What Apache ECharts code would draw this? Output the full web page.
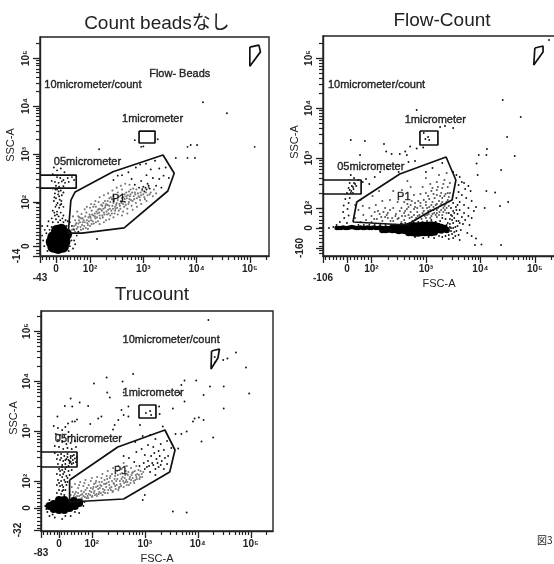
<!DOCTYPE html>
<html><head><meta charset="utf-8">
<script src="https://cdn.jsdelivr.net/npm/echarts@6/dist/echarts.min.js"></script>
<style>html,body{margin:0;padding:0;background:#fff}#c{width:554px;height:564px;filter:blur(0.6px)}</style>
</head><body><div id="c"></div>
<script>
const titles = ['Count beadsなし','Flow-Count','Trucount'];
const xTickVals = [[1.36,2,3,4,5],[1.55,2,3,4,5],[1.38,2,3,4,5]];
const yTickVals = [[1.08,2,3,4,5],[1.6,2,3,4,5],[1.46,2,3,4,5]];
const lowX = ['-43','-106','-83'];
const lowY = ['-14','-160','-32'];
const lowYPos = [0.875,1.2,1.02];

// gates, in decades of FSC-A / SSC-A on the display scale
const p1Gate = [[[1.64,2.04],[1.72,2.21],[2.43,2.63],[3.37,2.98],[3.58,2.6],[3.46,2.23],[2.64,1.46],[1.85,1.35],[1.59,1.35],[1.64,2.04]],
 [[1.66,1.72],[1.73,2.12],[2.52,2.68],[3.37,3.02],[3.55,2.56],[3.48,2.16],[3.02,1.9],[2.65,1.66],[1.66,1.72]],
 [[1.58,2.02],[2.49,2.68],[3.38,3.02],[3.57,2.62],[3.47,2.18],[2.6,1.64],[1.58,1.58],[1.58,2.02]]];
const oneGate = [[[2.92,3.48],[3.22,3.48],[3.22,3.23],[2.92,3.23],[2.92,3.48]],
 [[2.89,3.54],[3.22,3.54],[3.22,3.26],[2.89,3.26],[2.89,3.54]],
 [[2.89,3.52],[3.21,3.52],[3.21,3.26],[2.89,3.26],[2.89,3.52]]];
const halfGate = [[[1.06,2.56],[1.74,2.56],[1.74,2.29],[1.06,2.29]],
 [[1.11,2.56],[1.81,2.56],[1.81,2.28],[1.11,2.28]],
 [[1.04,2.58],[1.72,2.58],[1.72,2.28],[1.04,2.28]]];
const tenGate = [[[5,5.23],[5.17,5.27],[5.2,5.13],[5,4.83],[5,5.23]],
 [[5,5.2],[5.15,5.24],[5.15,5.12],[4.98,4.86],[5,5.2]],
 [[4.26,4.6],[4.41,4.64],[4.38,4.46],[4.25,4.24],[4.26,4.6]]];
const notes = [
 [['10micrometer/count',1.14,4.44],['1micrometer',2.6,3.73],['05micrometer',1.32,2.83],['P1',2.41,2.06],['Flow- Beads',3.11,4.67]],
 [['10micrometer/count',1.2,4.46],['1micrometer',2.61,3.76],['05micrometer',1.37,2.82],['P1',2.47,2.22]],
 [['10micrometer/count',2.58,4.82],['1micrometer',2.58,3.76],['05micrometer',1.3,2.84],['P1',2.42,2.2]]];

// ---- Count beads nashi
const core1 = [[1.4,1.17],[1.28,1.17],[1.52,1.17],[1.4,1.04],[1.4,1.3],[1.31,1.07],[1.49,1.07],[1.31,1.27],[1.49,1.27],[1.46,1.42],[1.38,1.4],[1.55,1.33]];
const dots1 = [[4.12,4.08],[4.57,3.85],[2.17,3.1],[5.09,3.15],[4.01,3.19],[3.89,3.19],[3.83,3.15],[3.61,2.92],[3.83,2.92],[3.97,2.92],[2.84,3.29],[3.27,3.31],[2.96,3.15],[3.0,3.16],[2.13,1.23],
[1.32,2.72],[1.38,2.66],[1.45,2.7],[1.52,2.62],[1.3,2.58],[1.38,2.52],[1.44,2.5],[1.5,2.46],[1.58,2.5],[1.66,2.52],[1.7,2.46],[1.28,2.44],[1.34,2.42],[1.41,2.4],[1.47,2.43],[1.53,2.4],[1.6,2.42],[1.36,2.34],[1.42,2.32],[1.5,2.33],[1.3,2.28],[1.38,2.26],[1.45,2.24],[1.34,2.18],[1.4,2.16],[1.47,2.14],[1.36,2.08],[1.43,2.05],[1.32,2.02],[1.39,1.98],[1.46,1.96],[1.35,1.9],[1.42,1.88],[1.5,1.9],[1.3,1.82],[1.38,1.8],[1.45,1.78],[1.34,1.72],[1.41,1.7],[1.5,1.72],[1.28,1.66],[1.36,1.64],[1.44,1.62],[1.54,1.62],[1.22,1.6],[1.4,1.58],[1.5,1.58],[1.3,1.58],
[1.33,2.1],[1.41,2.22],[1.37,1.94],[1.46,2.02],[1.33,1.78],[1.48,1.66],[1.38,1.74],[1.44,1.94],[1.35,2.26],[1.5,2.2],[1.42,2.12],
[1.1,1.3],[1.12,1.2],[1.15,1.42],[1.14,1.08],[1.7,1.2],[1.75,1.3],[1.72,1.12],[1.68,1.03],[1.2,0.98],[1.1,1.5],[1.2,1.5],[1.78,1.38],[1.66,1.5],[1.7,1.42],[1.62,1.58],[1.58,1.6],[1.18,1.35],[1.2,1.1],[1.62,1.08],[1.65,1.2],[1.6,0.98],[1.28,1.48],[1.24,1.42],[1.56,1.5],
[2.72,2.62],[2.6,2.56],[2.78,2.48],[2.86,2.72],[2.94,2.78],[3.05,2.8],[3.14,2.68],[3.22,2.86],[3.3,2.7],[3.38,2.55],[3.42,2.72],[3.48,2.5],[3.3,2.48],[3.18,2.5],[3.06,2.56],[2.96,2.44],[3.0,2.32],[3.08,2.38],[3.12,2.28],[3.02,2.22],[2.92,2.3],[3.24,2.34],[3.34,2.3],[2.84,2.36],[2.52,2.55],[2.44,2.46],[3.04,2.3],[3.06,2.26],[3.1,2.34],[2.98,2.27]];
const gray1 = [[1.66,1.42],[1.7,1.5],[1.72,1.62],[1.68,1.7],[1.75,1.44],[1.78,1.55],[1.8,1.68],[1.76,1.8],[1.83,1.42],[1.85,1.52],[1.88,1.62],[1.84,1.75],[1.9,1.85],[1.92,1.46],[1.95,1.56],[1.97,1.68],[1.93,1.78],[2.0,1.5],[2.02,1.62],[2.04,1.74],[2.0,1.88],[2.07,1.55],[2.1,1.66],[2.12,1.8],[2.08,1.95],[2.15,1.6],[2.18,1.72],[2.2,1.85],[2.16,2.0],
[2.24,1.68],[2.26,1.78],[2.23,1.92],[2.28,2.02],[2.3,1.62],[2.32,1.74],[2.34,1.84],[2.3,1.96],[2.36,2.08],[2.38,1.72],[2.4,1.82],[2.42,1.92],[2.38,2.0],[2.44,2.12],[2.46,1.76],[2.48,1.86],[2.5,1.98],[2.46,2.06],[2.52,2.2],[2.54,1.82],[2.56,1.92],[2.58,2.02],[2.55,2.12],[2.6,2.26],[2.62,1.8],[2.64,1.9],[2.66,2.0],[2.63,2.1],[2.68,2.2],[2.7,1.86],[2.72,1.96],[2.74,2.06],[2.71,2.14],[2.76,2.26],[2.78,1.92],[2.8,2.02],[2.82,2.12],[2.79,2.2],[2.86,1.98],[2.88,2.08],[2.9,2.18],[2.87,2.26],[2.94,2.04],[2.96,2.14],[2.98,2.24],[3.02,2.1],[3.05,2.2],[3.08,2.14],[3.1,2.3],[3.14,2.2],[3.18,2.12],[3.2,2.26],[3.24,2.18],
[1.72,1.38],[1.82,1.48],[1.9,1.58],[1.98,1.6],[2.06,1.72],[2.14,1.76],[2.22,1.82],[2.28,1.88],[2.36,1.92],[2.44,1.98],[2.52,2.04],[2.6,2.08],[2.68,2.12],[2.76,2.16],[2.84,2.2],[1.78,1.7],[1.86,1.66],[1.94,1.9],[2.02,1.96],[2.1,2.02],[2.18,2.1],[2.26,2.14],[2.34,2.18],[2.42,2.24],[2.5,2.3],[2.58,2.34],[2.66,2.38],[2.74,2.36],[2.18,1.54],[2.26,1.58],[2.36,1.64],[2.44,1.68],[2.52,1.74],[2.6,1.72],[2.7,1.76],[2.8,1.84],[2.88,1.9],[2.96,1.96],[3.06,2.02],
[1.74,1.56],[1.87,1.44],[1.96,1.44],[2.03,1.54],[2.11,1.58],[2.0,1.7],[2.09,1.76],[2.17,1.86],[2.25,1.98],[2.33,2.02],[2.41,2.06],[2.47,1.9],[2.55,1.96],[2.65,2.16],[2.73,2.22],[2.81,2.28],[2.93,2.1],
[1.69,1.44],[1.73,1.52],[1.77,1.48],[1.81,1.58],[1.79,1.62],[1.83,1.66],[1.86,1.58],[1.89,1.5],[1.91,1.7],[1.94,1.62],[1.96,1.52],[1.99,1.74],[2.01,1.67],[2.03,1.82],[2.05,1.6],[2.06,1.9],[2.09,1.7],[2.11,1.9],[2.13,1.68],[2.15,1.84],[2.17,1.78],[2.19,1.66],[2.21,1.94],[2.23,1.72],[2.25,1.86],[2.27,1.74],[2.29,1.92],[2.31,1.8],[2.33,1.94],[2.35,1.76],[2.37,1.86],[2.39,2.1],[2.41,1.76],[2.43,1.86],[2.45,2.02],[2.47,1.82],[2.49,1.94],[2.51,1.88],[2.53,2.1],[2.57,1.86],[2.59,1.98],[2.61,2.16],[2.62,1.96],[2.65,2.06],[2.67,1.94],[2.69,2.08],[2.73,2.0],[2.75,2.12],[2.77,2.04],[2.83,2.06],[2.85,2.16],[2.91,2.12],[2.95,2.2],[3.0,2.16],[3.03,2.06],[3.12,2.16]];

// ---- Flow-Count
const coreThin2 = [[1.36,1.6],[1.4,1.6],[1.44,1.6],[1.48,1.61],[1.52,1.6],[1.56,1.6],[1.6,1.61],[1.64,1.62],[1.68,1.61],[1.72,1.6],[1.76,1.6],[1.8,1.61],[1.84,1.6],[1.88,1.6],[1.92,1.61],[1.96,1.6],[2.0,1.6],[2.04,1.61],[2.08,1.6],[2.12,1.6],[2.16,1.61],[2.2,1.6],[2.24,1.6],[2.28,1.6],[2.32,1.6]];
const coreThick2 = [[2.2,1.56],[2.26,1.56],[2.32,1.57],[2.38,1.6],[2.38,1.56],[2.44,1.62],[2.44,1.56],[2.5,1.6],[2.5,1.54],[2.56,1.63],[2.56,1.55],[2.62,1.62],[2.62,1.54],[2.68,1.64],[2.68,1.56],[2.68,1.5],[2.74,1.65],[2.74,1.57],[2.74,1.5],[2.8,1.65],[2.8,1.57],[2.8,1.49],[2.86,1.65],[2.86,1.57],[2.86,1.49],[2.92,1.66],[2.92,1.58],[2.92,1.5],[2.98,1.66],[2.98,1.58],[2.98,1.5],[3.04,1.66],[3.04,1.58],[3.04,1.5],[3.1,1.67],[3.1,1.58],[3.1,1.5],[3.16,1.66],[3.16,1.58],[3.16,1.51],[3.22,1.64],[3.22,1.56],[3.28,1.62],[3.28,1.55],[3.34,1.6],[3.38,1.56]];
const dots2 = [[5.26,5.36],[4.41,4.16],[4.74,3.82],[4.49,3.42],[4.63,3.04],[2.83,3.96],[3.26,3.62],[3.35,3.64],[3.5,3.6],[1.62,3.36],[1.88,3.34],[2.23,3.28],[1.79,3.06],[2.27,3.13],[2.37,3.08],[2.52,3.08],[2.62,3.13],[2.65,3.06],[2.71,3.23],[2.83,3.19],[2.95,3.21],[3.97,3.06],[4.11,3.06],[4.12,3.18],[4.38,2.76],[3.93,2.89],[3.95,2.66],[4.11,2.34],[4.27,2.31],[4.51,2.12],[4.36,2.04],[4.08,2.0],[3.92,2.02],[4.38,1.26],[4.02,1.27],[3.9,1.26],[3.62,1.36],[3.92,1.39],[2.96,3.5],[3.04,3.42],[3.06,3.36],[2.99,3.38],
[1.3,1.62],[1.22,1.6],[1.36,1.66],[1.42,1.72],[1.55,1.7],[1.5,1.8],[1.58,1.85],[1.48,1.92],[1.56,1.98],[1.49,2.05],[1.58,2.1],[1.52,2.18],[1.6,2.2],[1.55,2.3],[1.63,2.34],[1.58,2.4],[1.66,2.42],[1.6,2.5],[1.7,2.48],[1.76,2.56],[1.68,2.6],[1.62,2.66],[1.84,2.52],[1.9,2.58],[1.96,2.48],[2.06,2.62],[2.16,2.72],[2.3,2.78],[2.5,2.72],[2.68,2.92],[2.8,2.94],[3.0,2.72],[3.12,2.8],[3.3,2.9],
[1.6,2.36],[1.64,2.44],[1.67,2.38],[1.62,2.3],[1.68,2.5],[1.72,2.44],[1.66,2.3],
[3.5,2.72],[3.56,2.66],[3.62,2.62],[3.66,2.52],[3.7,2.5],[3.6,2.46],[3.72,2.38],[3.78,2.44],[3.82,2.34],[3.6,2.32],[3.66,2.26],[3.74,2.2],[3.84,2.14],[3.56,2.2],[3.62,2.12],[3.7,2.06],[3.78,2.0],[3.88,1.94],[3.55,2.02],[3.62,1.96],[3.7,1.9],[3.78,1.84],[3.84,1.8],[3.5,1.94],[3.58,1.88],[3.66,1.82],[3.72,1.76],[3.46,1.86],[3.52,1.8],[3.6,1.74],[3.68,1.68],[3.8,1.66],[3.44,1.78],[3.5,1.7],[3.58,1.64],[3.64,1.56],[3.76,1.5],[3.84,1.44],[3.46,1.6],[3.52,1.52],[3.6,1.46],[3.42,1.46],[3.5,1.4],[3.36,1.44],[3.42,1.38],[3.3,1.42],[3.24,1.44],[3.15,1.4],[3.05,1.42],[2.95,1.4],[2.8,1.42],
[3.44,1.68],[3.48,1.76],[3.54,1.62],[3.56,1.74],[3.48,1.48],[3.54,1.44],[3.4,1.52],[3.46,1.54],[3.52,1.9],[3.46,2.0],[3.5,2.1],[3.58,2.06],[3.4,1.58],[3.44,1.62],[3.5,1.6],[3.56,1.54],[3.38,1.66],[3.62,1.7],[3.48,1.84],[3.56,1.96],
[3.4,1.7],[3.42,1.9],[3.36,1.78],[3.3,1.8],[3.26,1.74],[3.18,1.72],[3.1,1.76],[3.02,1.74],[2.94,1.72],[2.86,1.72],[2.78,1.7],[2.7,1.7],[2.62,1.7],[2.54,1.68],[2.46,1.66],[2.36,1.66],[2.26,1.66],[2.16,1.66],[2.06,1.66],[1.96,1.66],[1.86,1.66],[1.76,1.66]];
const gray2 = [[1.8,1.72],[1.9,1.76],[2.0,1.72],[2.1,1.78],[2.2,1.74],[2.3,1.8],[2.4,1.74],[2.5,1.8],[2.6,1.76],[2.7,1.8],[2.8,1.76],[2.9,1.82],[3.0,1.8],[3.1,1.84],[3.2,1.82],[3.3,1.86],[3.38,1.9],
[1.7,1.8],[1.85,1.86],[2.0,1.84],[2.15,1.88],[2.3,1.9],[2.45,1.88],[2.6,1.9],[2.72,1.92],[2.84,1.92],[2.96,1.94],[3.08,1.96],[3.2,1.96],[3.32,2.0],[3.42,2.04],
[2.25,2.0],[2.4,2.0],[2.55,2.0],[2.68,2.02],[2.8,2.02],[2.9,2.04],[3.0,2.06],[3.1,2.06],[3.2,2.08],[3.3,2.12],[3.4,2.16],
[2.6,2.12],[2.74,2.14],[2.86,2.14],[2.96,2.16],[3.06,2.18],[3.16,2.2],[3.26,2.24],[3.36,2.28],[3.44,2.3],
[2.78,2.26],[2.9,2.28],[3.0,2.3],[3.1,2.34],[3.2,2.36],[3.3,2.4],[3.4,2.42],[2.94,2.42],[3.08,2.48],[3.2,2.52],[3.34,2.56],[3.44,2.5],[3.0,2.6],[3.24,2.66],[3.38,2.7],
[1.76,1.96],[1.7,2.06],[1.84,2.04],[1.96,2.0],[2.08,2.06],[2.2,2.14],[2.34,2.16],[2.48,2.12],[1.8,2.16],[2.02,2.24],[2.14,2.34],[2.4,2.34],[2.56,2.36],[2.72,2.42],[2.66,2.54],
[2.05,1.78],[2.25,1.82],[2.35,1.74],[2.55,1.72],[2.75,1.74],[2.85,1.84],[2.95,1.86],[3.05,1.88],[3.15,1.9],[3.25,1.92],[3.35,1.96],[2.65,1.98],[2.78,1.98],[3.02,2.0],[3.14,2.02],[3.26,2.04],[3.36,2.08],
[2.62,1.84],[2.68,1.86],[2.74,1.82],[2.78,1.86],[2.82,1.8],[2.88,1.86],[2.92,1.78],[2.94,1.9],[2.98,1.84],[3.02,1.86],[3.04,1.94],[3.08,1.8],[3.12,1.88],[3.14,1.96],[3.18,1.86],[3.2,1.9],[3.22,2.0],[3.24,1.86],[3.28,1.96],[3.28,2.08],[3.32,1.92],[3.34,2.04],[3.38,2.0],[3.38,2.12],[3.3,2.2],[3.24,2.14],[3.18,2.06],[3.12,2.12],[3.06,2.02],[3.0,2.12],[2.94,2.0],[2.9,2.1],[2.84,2.0],[2.8,2.1],[2.72,2.06],[2.66,2.08],[2.62,1.94],[2.56,1.84],[2.52,1.94],[2.48,1.78],[2.44,1.84],[2.38,1.8],[2.34,1.96],[2.28,1.86],[2.22,1.92],[2.18,1.82],[2.12,1.94],[2.06,1.92],[3.34,2.24],[3.28,2.3],[3.2,2.26],[3.14,2.28],[3.04,2.24],[3.4,2.3],[3.42,2.22],[3.22,2.42],[3.32,2.48],[3.12,2.4]];

// ---- Trucount
const core3 = [[1.2,1.5],[1.28,1.44],[1.38,1.42],[1.48,1.42],[1.58,1.46],[1.68,1.5],[1.76,1.56],[1.28,1.54],[1.38,1.52],[1.48,1.52],[1.58,1.56],[1.66,1.6],[1.38,1.62],[1.48,1.62],[1.32,1.48],[1.54,1.5]];
const dots3 = [[4.2,5.22],[4.72,4.57],[4.56,4.45],[4.48,4.42],[4.91,4.27],[4.97,3.75],[4.49,3.45],[4.49,3.89],[4.23,3.89],[4.11,3.72],[3.97,4.01],[3.75,4.01],[3.69,3.92],[3.66,3.75],[3.75,3.59],[3.53,3.45],[2.78,4.14],[2.58,3.99],[2.28,4.07],[2.04,3.95],[2.29,3.77],[2.34,3.67],[2.6,3.77],[2.69,3.49],[2.56,3.42],[2.6,3.32],[2.69,3.29],[1.77,3.57],[1.6,3.65],[1.63,3.49],[1.93,3.5],[1.49,3.5],[1.35,3.29],[2.18,3.29],[2.12,3.25],[1.97,3.14],[1.72,3.23],[1.63,3.19],[1.68,3.19],[1.55,3.15],[2.5,3.22],[2.43,3.12],[2.4,3.03],[2.91,3.12],[3.27,3.49],[3.28,3.34],[3.94,3.25],[3.91,3.19],[4.02,3.27],[4.11,3.22],[4.29,2.87],[4.07,2.79],[3.79,2.99],[3.69,2.94],[3.58,2.94],[3.53,1.39],[3.79,1.37],[3.34,3.09],[3.63,2.65],[3.02,3.36],[3.1,3.4],[3.12,3.32],[4.32,4.48],[4.33,4.38],
[1.28,3.1],[1.36,3.06],[1.44,3.02],[1.5,3.08],[1.56,2.98],[1.32,2.94],[1.4,2.92],[1.48,2.9],[1.56,2.88],[1.62,2.92],[1.36,2.82],[1.44,2.78],[1.52,2.74],[1.6,2.76],[1.68,2.8],[1.3,2.7],[1.38,2.68],[1.46,2.64],[1.54,2.66],[1.62,2.64],[1.7,2.68],
[1.3,2.56],[1.36,2.52],[1.42,2.54],[1.48,2.5],[1.54,2.54],[1.6,2.5],[1.66,2.52],[1.72,2.48],[1.34,2.44],[1.4,2.42],[1.46,2.4],[1.52,2.44],[1.58,2.4],[1.64,2.42],[1.7,2.38],[1.36,2.34],[1.44,2.32],[1.5,2.34],[1.56,2.3],[1.62,2.34],[1.38,2.24],[1.44,2.22],[1.5,2.24],[1.56,2.2],[1.62,2.22],[1.34,2.14],[1.4,2.12],[1.46,2.14],[1.52,2.1],[1.58,2.12],[1.36,2.02],[1.42,2.0],[1.48,2.02],[1.54,1.98],[1.34,1.92],[1.4,1.9],[1.46,1.88],[1.52,1.92],[1.38,1.82],[1.44,1.8],[1.5,1.82],[1.34,1.76],[1.42,1.74],[1.48,1.72],
[1.6,2.46],[1.63,2.5],[1.58,2.36],[1.68,2.45],[1.54,2.48],[1.6,2.38],[1.65,2.36],[1.5,2.42],[1.42,2.46],[1.56,2.42],[1.44,2.28],[1.52,2.28],[1.4,2.2],[1.48,2.18],[1.54,2.06],[1.44,2.08],[1.38,1.96],[1.5,1.98],[1.44,1.92],[1.46,1.82],
[1.12,1.5],[1.16,1.38],[1.2,1.3],[1.3,1.27],[1.44,1.24],[1.6,1.3],[1.76,1.36],[1.84,1.5],[1.8,1.62],[1.2,1.62],[1.86,1.58],[1.14,1.44],[1.26,1.33],[1.5,1.3],[1.68,1.38],
[2.82,2.78],[2.96,2.9],[3.1,2.92],[3.2,2.84],[3.3,2.74],[3.42,2.8],[3.5,2.66],[3.44,2.5],[3.36,2.62],[3.26,2.6],[3.16,2.68],[3.06,2.72],[2.94,2.64],[2.84,2.58],[3.0,2.52],[3.12,2.5],[3.22,2.44],[3.32,2.4],[3.42,2.34],[3.06,2.4],[3.16,2.32],[3.26,2.28],[3.36,2.24],[3.0,2.24],[3.1,2.18],[2.9,2.3],[2.8,2.38],[2.7,2.46],[3.2,2.12],[2.6,2.5],[2.96,1.62],[3.0,1.72],
[3.04,2.28],[3.14,2.36],[3.2,2.24],[3.3,2.32],[3.38,2.46],[3.18,2.56],[3.28,2.5],[3.08,2.3],[2.98,2.36],[3.24,2.36]];
const gray3 = [[1.62,1.62],[1.66,1.7],[1.64,1.78],[1.62,1.88],[1.72,1.62],[1.76,1.7],[1.7,1.78],[1.74,1.86],[1.68,1.94],[1.82,1.62],[1.84,1.7],[1.8,1.8],[1.84,1.9],[1.78,1.98],[1.9,1.66],[1.94,1.74],[1.88,1.82],[1.94,1.92],[1.88,2.02],[2.0,1.68],[2.04,1.76],[1.98,1.86],[2.04,1.94],[2.0,2.06],[2.1,1.7],[2.14,1.78],[2.08,1.88],[2.14,1.98],[2.1,2.08],[2.2,1.72],[2.24,1.82],[2.18,1.9],[2.24,2.02],[2.2,2.14],[2.3,1.76],[2.34,1.86],[2.28,1.96],[2.34,2.06],[2.3,2.2],[2.4,1.8],[2.44,1.9],[2.38,2.0],[2.44,2.1],[2.4,2.26],[2.5,1.82],[2.54,1.94],[2.48,2.04],[2.54,2.14],[2.5,2.3],[2.6,1.88],[2.64,1.98],[2.58,2.08],[2.64,2.2],[2.6,2.36],[2.7,1.92],[2.74,2.02],[2.68,2.12],[2.74,2.26],[2.8,1.96],[2.84,2.08],[2.78,2.18],[2.84,2.3],[2.9,2.04],[2.94,2.14],[2.88,2.22],
[1.66,1.64],[1.7,1.68],[1.78,1.64],[1.82,1.74],[1.92,1.7],[1.96,1.8],[2.02,1.84],[2.06,1.72],[2.12,1.84],[2.16,1.92],[2.22,1.78],[2.26,1.94],[2.32,1.98],[2.36,1.82],[2.42,1.94],[2.46,2.0],[2.52,1.88],[2.56,2.04],[2.62,2.06],[2.66,1.92],[2.72,2.08],[2.76,2.16],[2.82,2.02],[2.86,2.14],[2.92,2.2],[1.6,1.72],[1.68,1.74],[1.74,1.76],[1.76,1.92],[1.86,1.96],[1.98,2.0],[2.08,2.0],[2.18,2.06],[2.28,2.1],[2.38,2.14],[2.48,2.2],[2.56,2.24],[2.66,2.3],
[1.64,1.66],[1.68,1.62],[1.72,1.7],[1.75,1.64],[1.79,1.72],[1.81,1.66],[1.85,1.78],[1.87,1.68],[1.89,1.74],[1.91,1.86],[1.93,1.66],[1.97,1.72],[1.99,1.78],[2.01,1.7],[2.03,1.88],[2.05,1.8],[2.07,1.96],[2.09,1.74],[2.11,1.9],[2.13,1.74],[2.15,1.86],[2.17,1.76],[2.19,1.98],[2.21,1.84],[2.23,1.94],[2.25,1.76],[2.27,1.88],[2.29,2.04],[2.31,1.82],[2.33,1.92],[2.35,2.1],[2.37,1.88],[2.39,1.78],[2.41,1.96],[2.43,2.04],[2.45,1.84],[2.47,1.92],[2.49,2.12],[2.51,1.86],[2.53,2.0],[2.55,1.9],[2.57,2.16],[2.59,2.0],[2.61,1.96],[2.63,2.12],[2.65,2.02],[2.67,1.98],[2.69,2.18],[2.71,2.04],[2.73,1.96],[2.75,2.12],[2.77,2.06],[2.79,2.0],[2.81,2.2],[2.83,2.12],[2.85,2.04],[2.89,2.12],[2.91,2.08],[2.95,2.08],[2.97,2.18]];

const cores = [[core1],[coreThin2,coreThick2],[core3]];
const coreSizes = [[12],[4.5,6.5],[8]];
const dots = [dots1,dots2,dots3];
const grays = [gray1,gray2,gray3];

const frames = [
 {grid:{left:40,top:37,width:229,height:219}, x:[1.06,5.36], y:[0.875,5.44], xn:null, tc:152, tt:9, sx:11, sy:145},
 {grid:{left:323,top:36,width:232,height:220}, x:[1.11,5.37], y:[1.04,5.44], xn:'FSC-A', tc:437, tt:6, sx:295, sy:142},
 {grid:{left:41,top:311,width:232,height:220}, x:[1.04,5.42], y:[1.0,5.4], xn:'FSC-A', tc:147, tt:280, sx:14, sy:418}
];
function logMinors(from, step){
  const out=[];
  for(let v=from;v<2;v+=step) out.push(+v.toFixed(3));
  for(let d=2;d<=5;d++) for(let m=2;m<=9;m++) out.push(+(d+Math.log10(m)).toFixed(3));
  return out;
}
const sup = {2:'10²',3:'10³',4:'10⁴',5:'10⁵'};
const tickColor='#222';
const xAxis=[],yAxis=[],grid=[],series=[],title=[];
frames.forEach((f,i)=>{
  grid.push(Object.assign({show:true,outerBoundsMode:'none',borderColor:tickColor,borderWidth:1.4,backgroundColor:'#fff'},f.grid));
  const xLabel = v => { if(v===f.x[0]) return '\n'+lowX[i]; return Number.isInteger(v)?sup[v]:'0'; };
  const yLabel = v => { if(v===lowYPos[i]) return lowY[i]+'\n'; return Number.isInteger(v)?sup[v]:'0'; };
  xAxis.push({type:'value',gridIndex:i,position:'bottom',min:f.x[0],max:f.x[1],splitLine:{show:false},
    axisLine:{onZero:false,lineStyle:{color:tickColor,width:1.4}},
    axisTick:{length:7,customValues:xTickVals[i].concat([f.x[0]]),lineStyle:{color:tickColor,width:1.3}},
    axisLabel:{customValues:[f.x[0]].concat(xTickVals[i]),formatter:xLabel,fontFamily:'Liberation Sans',fontSize:10,fontWeight:'bold',color:'#222',margin:9,lineHeight:9,hideOverlap:false,showMinLabel:true,showMaxLabel:true},
    name:f.xn||'',nameLocation:'middle',nameGap:22,nameMoveOverlap:false,nameTextStyle:{fontFamily:'Liberation Sans',fontSize:11,color:'#222'}});
  xAxis.push({type:'value',gridIndex:i,position:'bottom',min:f.x[0],max:f.x[1],splitLine:{show:false},
    axisLine:{show:false,onZero:false},axisLabel:{show:false},
    axisTick:{length:4,customValues:logMinors(f.x[0]+0.05,0.065),lineStyle:{color:tickColor,width:1.2}}});
  const yVals=[lowYPos[i]].concat(yTickVals[i]);
  yAxis.push({type:'value',gridIndex:i,position:'left',min:f.y[0],max:f.y[1],splitLine:{show:false},
    axisLine:{onZero:false,lineStyle:{color:tickColor,width:1.4}},
    axisTick:{length:7,customValues:yVals,lineStyle:{color:tickColor,width:1.3}},
    axisLabel:{customValues:yVals,formatter:yLabel,rotate:90,fontFamily:'Liberation Sans',fontSize:10,fontWeight:'bold',color:'#222',margin:9,lineHeight:9,hideOverlap:false,showMinLabel:true,showMaxLabel:true},
    });
  yAxis.push({type:'value',gridIndex:i,position:'left',min:f.y[0],max:f.y[1],splitLine:{show:false},
    axisLine:{show:false,onZero:false},axisLabel:{show:false},
    axisTick:{length:4,customValues:logMinors(f.y[0]+0.05,0.075),lineStyle:{color:tickColor,width:1.2}}});
  const xi=i*2, yi=i*2;
  const base={xAxisIndex:xi,yAxisIndex:yi,silent:true,animation:false};
  series.push(Object.assign({},base,{type:'scatter',data:grays[i],symbolSize:2.1,itemStyle:{color:i===1?'#555':'#777',opacity:1}}));
  series.push(Object.assign({},base,{type:'scatter',data:dots[i],symbolSize:1.9,itemStyle:{color:'#111',opacity:1}}));
  cores[i].forEach((c,k)=>series.push(Object.assign({},base,{type:'scatter',data:c,symbolSize:coreSizes[i][k],itemStyle:{color:'#000',opacity:1}})));
  [p1Gate[i],oneGate[i],halfGate[i],tenGate[i]].forEach(g=>series.push(Object.assign({},base,{type:'line',data:g,symbol:'none',clip:false,lineStyle:{color:'#111',width:1.7},z:5})));
  series.push(Object.assign({},base,{type:'scatter',symbolSize:0,z:6,clip:false,
    data:notes[i].map(n=>({value:[n[1],n[2]],name:n[0]})),
    label:{show:true,position:'right',distance:0,formatter:p=>p.name,fontFamily:'Liberation Sans',fontSize:11,color:'#000',fontWeight:'normal',textBorderColor:'#000',textBorderWidth:0.4}}));
  title.push({text:titles[i],left:f.tc,top:f.tt,textAlign:'center',textStyle:{fontFamily:'Liberation Sans, Noto Sans CJK JP',fontSize:19,fontWeight:'normal',color:'#222'}});
});
const chart=echarts.init(document.getElementById('c'),null,{renderer:'canvas'});
chart.setOption({animation:false,backgroundColor:'#fff',title:title,grid,xAxis,yAxis,series,
 graphic:frames.map(f=>({type:'text',x:f.sx,y:f.sy,rotation:Math.PI/2,style:{text:'SSC-A',fontFamily:'Liberation Sans',fontSize:11,fill:'#222',align:'center',verticalAlign:'middle'}})).concat([{type:'text',x:537,y:535,style:{text:'図3',fontFamily:'Noto Sans CJK JP',fontSize:10,fill:'#222'}}])
});
</script></body></html>
